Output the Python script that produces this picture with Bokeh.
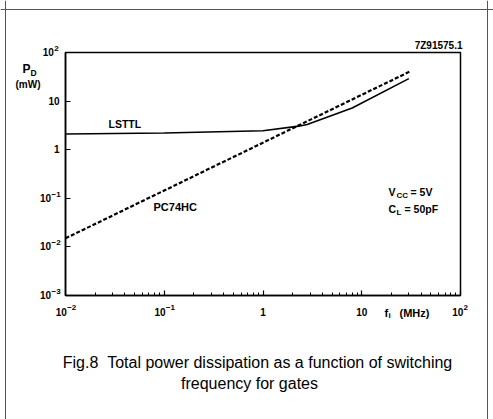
import math
from bokeh.plotting import figure
from bokeh.models import (Range1d, FixedTicker, Label, CustomJSTickFormatter,
                          BoxAnnotation, Span)
from bokeh.embed import file_html
from bokeh.resources import INLINE

# ---- data ----
lsttl_f = [0.01, 0.1, 1.0, 2.3, 2.8, 8.0, 30.0]
lsttl_p = [2.1, 2.2, 2.45, 3.05, 3.3, 7.2, 29.0]
hc_f = [0.01, 31.0]
hc_p = [0.015, 41.0]

x_ticks = [0.01, 0.1, 1, 10, 100]
x_tick_base = ["10", "10", "1", "10", "10"]
x_tick_exp = ["\u22122", "\u22121", "", "", "2"]
y_ticks = [0.001, 0.01, 0.1, 1, 10, 100]
y_tick_base = ["10", "10", "10", "1", "10", "10"]
y_tick_exp = ["\u22123", "\u22122", "\u22121", "", "", "2"]

# ---- layout (page pixels) ----
W, H = 493, 419
BL, BR, BT, BB = 65, 460, 52, 295  # chart box on the page
DX = 4 / (BR - BL)                 # decades per pixel, x
DY = 5 / (BB - BT)                 # decades per pixel, y
FONT = "Liberation Sans"
TS = 10          # tick label font size (px)
ES = 8           # exponent font size (px)
NB = 0.278 * TS  # width of a no-break space
W10 = 1.112 * TS # width of "10"
YSTAND = 6

x0 = -2 - BL * DX
x1 = -2 + (W - BL) * DX
y1 = 2 + BT * DY
y0 = 2 - (H - BT) * DY

p = figure(width=W, height=H, x_axis_type="log", y_axis_type="log",
           x_range=Range1d(10 ** x0, 10 ** x1), y_range=Range1d(10 ** y0, 10 ** y1),
           output_backend="svg", toolbar_location=None,
           min_border=0, min_border_left=0, min_border_right=0,
           min_border_top=0, min_border_bottom=0)
p.grid.visible = False
p.outline_line_color = None

def npad(e):
    return 3 if e.startswith("\u2212") else (2 if e else 0)

def fmt(tv, base, exp):
    tl = [b + "\u00a0" * npad(e) for b, e in zip(base, exp)]
    return CustomJSTickFormatter(args=dict(tv=tv, tl=tl), code="""
        for (let i = 0; i < tv.length; i++) {
            if (Math.abs(Math.log10(tick) - Math.log10(tv[i])) < 1e-6) return tl[i];
        }
        return '';
    """)

minor = []
for d in [-2, -1, 0, 1]:
    for k in range(2, 10):
        minor.append(k * 10.0 ** d)

xa = p.xaxis[0]
xa.fixed_location = y_ticks[0]
xa.bounds = (x_ticks[0], x_ticks[-1])
xa.ticker = FixedTicker(ticks=x_ticks, minor_ticks=minor)
xa.formatter = fmt(x_ticks, x_tick_base, x_tick_exp)
ya = p.yaxis[0]
ya.fixed_location = x_ticks[0]
ya.bounds = (y_ticks[0], y_ticks[-1])
ya.ticker = FixedTicker(ticks=y_ticks)
ya.formatter = fmt(y_ticks, y_tick_base, y_tick_exp)
for ax in (xa, ya):
    ax.axis_line_width = 1.5
    ax.major_tick_in = 5
    ax.major_tick_out = 0
    ax.major_tick_line_width = 1.2
    ax.major_label_text_font = FONT
    ax.major_label_text_font_style = "bold"
    ax.major_label_text_font_size = f"{TS}px"
    ax.major_label_text_color = "black"
xa.minor_tick_in = 3
xa.minor_tick_out = 0
xa.major_label_standoff = 11
ya.minor_tick_line_color = None
ya.major_label_standoff = YSTAND

p.add_layout(BoxAnnotation(left=x_ticks[0], right=x_ticks[-1],
                           bottom=y_ticks[0], top=y_ticks[-1],
                           fill_color=None, fill_alpha=0,
                           line_color="black", line_alpha=1, line_width=1.5))

def X(px):
    return 10 ** (-2 + (px - BL) * DX)

def Y(py):
    return 10 ** (2 - (py - BT) * DY)

def PX(x):
    return BL + (math.log10(x) + 2) / DX

def PY(y):
    return BT + (2 - math.log10(y)) / DY

# faint border of the scanned page
for loc, dim in ((X(5), "height"), (X(487), "height"), (Y(9), "width")):
    p.add_layout(Span(location=loc, dimension=dim, line_color="#555555", line_width=1))

p.line(lsttl_f, lsttl_p, line_color="black", line_width=1.6)
p.line(hc_f, hc_p, line_color="black", line_width=2.2, line_dash="4 2")

def lab(text, px, py, size, style="bold", align="left"):
    p.add_layout(Label(x=X(px), y=Y(py), text=text, text_font=FONT,
                       text_font_size=size, text_font_style=style,
                       text_align=align, text_baseline="middle",
                       text_color="black"))

# exponents of the tick labels
for t, e in zip(x_ticks, x_tick_exp):
    if e:
        off = (W10 - npad(e) * NB) / 2 + 0.3
        lab(e, PX(t) + off, 307, f"{ES}px")
for t, e in zip(y_ticks, y_tick_exp):
    if e:
        lab(e, BL - YSTAND - npad(e) * NB + 0.3, PY(t) - 4, f"{ES}px")

lab("7Z91575.1", 462, 45, "10px", align="right")
lab("P", 22, 68, "12px")
lab("D", 30, 72, "8.5px")
lab("(mW)", 15, 84, "10px")
lab("LSTTL", 108, 123, "10.5px")
lab("PC74HC", 153, 206, "11px")
lab("V", 388, 191, "10.5px")
lab("CC", 396, 195, "8px")
lab("= 5V", 410, 191, "10.5px")
lab("C", 388, 208, "10.5px")
lab("L", 396, 212, "8px")
lab("= 50pF", 404, 208, "10.5px")
lab("f", 384, 312, "11px")
lab("i", 388, 315, "8px")
lab("(MHz)", 399, 312, "11px")
lab("Fig.8\u00a0\u00a0Total power dissipation as a function of switching", 257, 362,
    "16px", style="normal", align="center")
lab("frequency for gates", 249, 383, "16px", style="normal", align="center")

open("out.html", "w").write(file_html(p, INLINE))
